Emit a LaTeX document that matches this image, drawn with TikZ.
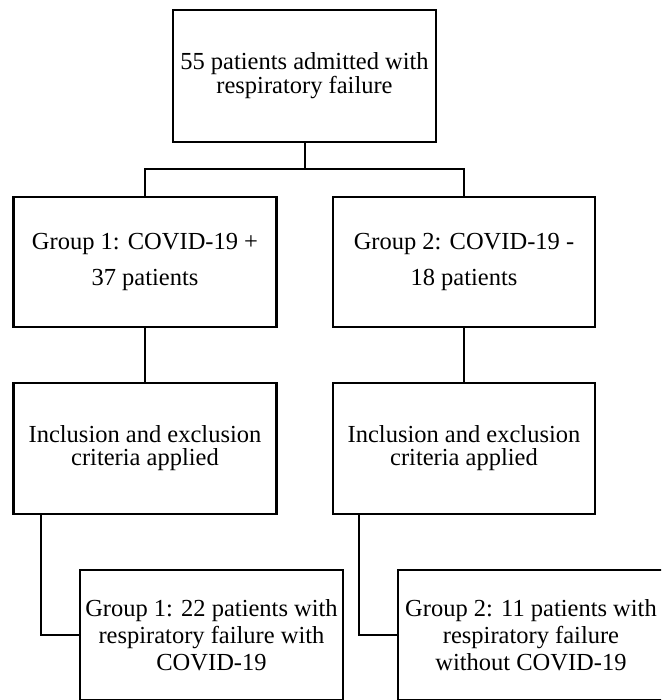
\documentclass[tikz,border=0pt]{standalone}
\usepackage{fontspec}
\setmainfont{Liberation Serif}
\newfontfamily\tnr{Liberation Serif}
\begin{document}
\begin{tikzpicture}[x=1pt,y=-1pt,
  box/.style={draw=black,line width=2.6pt,rectangle,inner sep=0pt,align=center,fill=white},
  conn/.style={draw=black,line width=2.2pt},
  fa/.style={font=\tnr\fontsize{24.5}{24}\selectfont},
  fb/.style={font=\tnr\fontsize{24.5}{36}\selectfont},
  fc/.style={font=\tnr\fontsize{24.5}{23}\selectfont},
  fd/.style={font=\tnr\fontsize{24.5}{27}\selectfont}]
\useasboundingbox (0,0) rectangle (661,700);
\clip (0,0) rectangle (661,700);
\fill[white] (0,0) rectangle (661,700);
\node[box,fa,minimum width=263pt,minimum height=132pt] (top) at (304.5,76) {55 patients admitted with\\respiratory failure};
\node[box,fb,minimum width=263pt,minimum height=130pt] (g1) at (145,262) {Group 1: COVID-19 +\\37 patients};
\node[box,fb,minimum width=262pt,minimum height=130pt] (g2) at (464,262) {Group 2: COVID-19 -\\18 patients};
\node[box,fc,minimum width=263pt,minimum height=131pt] (i1) at (145,448.5) {Inclusion and exclusion\\criteria applied};
\node[box,fc,minimum width=262pt,minimum height=131pt] (i2) at (464,448.5) {Inclusion and exclusion\\criteria applied};
\node[box,fd,minimum width=263pt,minimum height=130pt] (f1) at (211.5,635) {Group 1: 22 patients with\\respiratory failure with\\COVID-19};
\node[box,fd,minimum width=266pt,minimum height=130pt] (f2) at (531,635) {Group 2: 11 patients with\\respiratory failure\\without COVID-19};
\coordinate (j) at (305,169);
\coordinate (i1d) at (41,514);
\coordinate (i2d) at (359,514);
\draw[conn] (top.south -| j) -- (j);
\draw[conn] (j) -| (g1.north);
\draw[conn] (j) -| (g2.north);
\draw[conn] (g1.south) -- (i1.north);
\draw[conn] (g2.south) -- (i2.north);
\draw[conn] (i1d) |- (f1.west);
\draw[conn] (i2d) |- (f2.west);
\end{tikzpicture}
\end{document}
